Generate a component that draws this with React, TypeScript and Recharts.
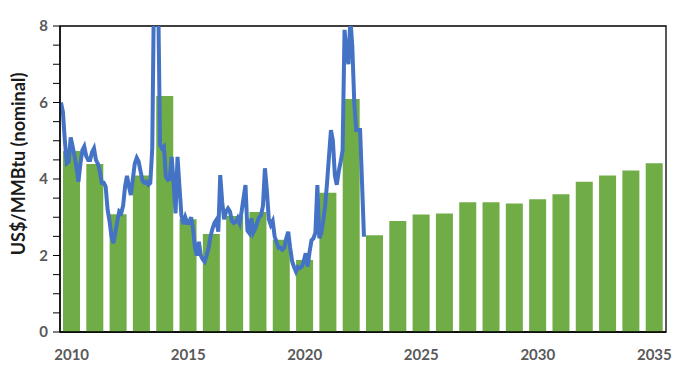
import React from 'react';
import { ComposedChart, Bar, Line, XAxis, YAxis, ReferenceArea } from 'recharts';

// one bar per year, annual outlook (US$/MMBtu)
const years = [
  2010, 2011, 2012, 2013, 2014, 2015, 2016, 2017, 2018, 2019, 2020, 2021, 2022,
  2023, 2024, 2025, 2026, 2027, 2028, 2029, 2030, 2031, 2032, 2033, 2034, 2035,
];
const annual = [
  4.73, 4.39, 3.08, 4.09, 6.17, 2.95, 2.56, 3.03, 3.14, 2.41, 1.88, 3.64, 6.09,
  2.53, 2.9, 3.07, 3.1, 3.39, 3.39, 3.36, 3.47, 3.6, 3.93, 4.09, 4.22, 4.41,
];

// monthly spot price, Jan..Dec
const hh2010 = [6.0, 5.75, 5.0, 4.41, 4.45, 5.09, 4.85, 4.6, 4.3, 3.93, 4.4, 4.75];
const hh2011 = [4.85, 4.6, 4.5, 4.5, 4.7, 4.8, 4.5, 4.4, 4.2, 3.9, 3.9, 3.8];
const hh2012 = [3.2, 2.9, 2.5, 2.32, 2.6, 2.9, 3.15, 3.1, 3.3, 3.8, 4.08, 3.8];
const hh2013 = [3.58, 4.0, 4.4, 4.55, 4.45, 4.2, 3.95, 3.9, 3.93, 3.85, 3.9, 4.8];
const hh2014 = [9.5, 10.5, 9.0, 4.89, 4.8, 4.85, 4.06, 3.98, 4.0, 4.58, 3.9, 3.1];
const hh2015 = [4.58, 3.8, 3.05, 2.82, 3.0, 2.85, 2.85, 3.0, 2.7, 2.2, 2.0, 2.36];
const hh2016 = [2.0, 1.9, 1.84, 2.0, 2.2, 2.5, 2.7, 2.85, 2.93, 2.62, 4.1, 3.4];
const hh2017 = [2.95, 3.15, 3.23, 3.15, 2.9, 2.85, 2.88, 2.98, 2.85, 3.15, 3.5, 3.84];
const hh2018 = [2.65, 2.58, 2.97, 2.6, 2.7, 2.85, 3.0, 3.05, 3.3, 4.28, 3.7, 2.95];
const hh2019 = [2.8, 2.9, 2.5, 2.35, 2.2, 2.2, 2.15, 2.2, 2.45, 2.62, 2.2, 1.85];
const hh2020 = [1.7, 1.58, 1.7, 1.67, 1.71, 1.85, 2.06, 1.71, 2.1, 2.4, 2.45, 2.6];
const hh2021 = [3.84, 2.45, 2.58, 2.9, 3.3, 3.9, 4.6, 5.28, 5.0, 4.1, 3.85, 4.2];
const hh2022 = [4.45, 4.75, 7.9, 7.3, 7.0, 8.2, 7.46, 6.0, 5.28, 5.28, 5.28, 3.9];
const hh2023 = [2.49];

const yTicks = [0, 0.5, 1, 1.5, 2, 2.5, 3, 3.5, 4, 4.5, 5, 5.5, 6, 6.5, 7, 7.5, 8];

const monthly = [
  hh2010, hh2011, hh2012, hh2013, hh2014, hh2015, hh2016, hh2017, hh2018,
  hh2019, hh2020, hh2021, hh2022, hh2023,
].flat();

const annualRows = years.map((y, i) => ({ year: y, annual: annual[i] }));
// line runs on its own hidden axis, in months from Jan 2010
const monthRows = monthly.map((p, m) => ({ t: m + 0.5, price: p }));
const span = years.length * 12;

const tickStyle = { fill: '#595959', fontSize: 15, fontWeight: 700 };

export default function App() {
  return (
    <div style={{ position: 'absolute', left: 0, top: 0 }}>
      <ComposedChart
        width={676}
        height={387}
        data={annualRows}
        margin={{ top: 26, right: 10, bottom: 25, left: 0 }}
        style={{ fontFamily: 'Lato, sans-serif' }}
      >
        <XAxis
          dataKey="year"
          interval={4}
          tick={tickStyle}
          tickLine={false}
          tickSize={0}
          tickMargin={17}
          height={30}
          axisLine={{ stroke: '#000', strokeWidth: 1.3 }}
        />
        <XAxis xAxisId="m" dataKey="t" type="number" domain={[0, span]} hide />
        <YAxis
          domain={[0, 8]}
          ticks={yTicks}
          allowDataOverflow
          interval={0}
          width={60}
          tick={tickStyle}
          tickFormatter={(v: number) => (v % 2 === 0 ? String(v) : '')}
          tickSize={7}
          tickMargin={5}
          tickLine={{ stroke: '#000', strokeWidth: 1 }}
          axisLine={{ stroke: '#000', strokeWidth: 1.3 }}
          label={{
            content: () => (
              <text
                x={18}
                y={164}
                transform="rotate(-90 18 164)"
                textAnchor="middle"
                dominantBaseline="central"
                fill="#1a1a1a"
                fontSize={18}
                fontWeight={700}
                fontFamily="Lato, sans-serif"
              >
                US$/MMBtu (nominal)
              </text>
            ),
          }}
        />
        <ReferenceArea xAxisId="m" x1={0} x2={span} y1={0} y2={8} fill="none" stroke="#000" strokeWidth={1.3} />
        <Bar dataKey="annual" fill="#70AD47" barSize={17} isAnimationActive={false} />
        <Line
          xAxisId="m"
          data={monthRows}
          dataKey="price"
          type="linear"
          stroke="#4472C4"
          strokeWidth={4}
          dot={false}
          isAnimationActive={false}
        />
      </ComposedChart>
    </div>
  );
}
